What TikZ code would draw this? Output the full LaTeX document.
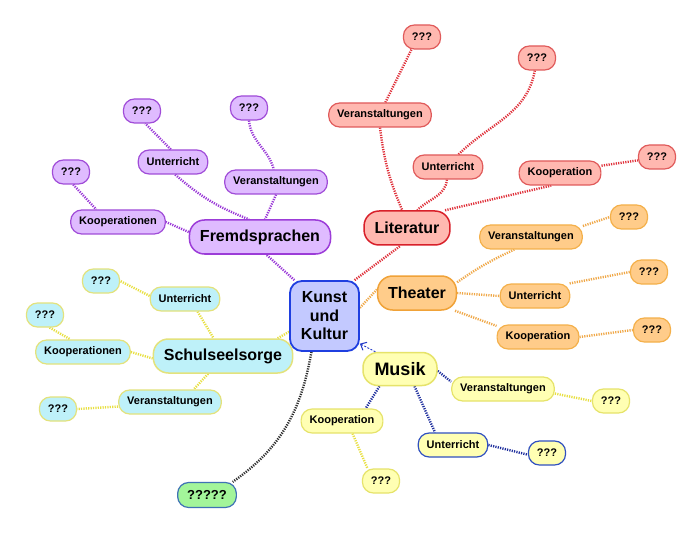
\documentclass[tikz,border=0pt]{standalone}
\usepackage{fontspec}
\setmainfont{Liberation Sans}
\usetikzlibrary{arrows.meta,backgrounds}
\definecolor{cfill}{HTML}{C3C9FF}
\definecolor{cdraw}{HTML}{1F3FE0}
\definecolor{litfill}{HTML}{FFB8B0}
\definecolor{litdraw}{HTML}{D8202A}
\definecolor{litdrawS}{HTML}{E05A5A}
\definecolor{litline}{HTML}{E0303A}
\definecolor{thfill}{HTML}{FFCC8A}
\definecolor{thdraw}{HTML}{F0A238}
\definecolor{thdrawS}{HTML}{F4B04A}
\definecolor{thline}{HTML}{F0A848}
\definecolor{frfill}{HTML}{DFBBFF}
\definecolor{frdraw}{HTML}{9C3CD8}
\definecolor{frdrawS}{HTML}{A04CD8}
\definecolor{frline}{HTML}{9A38D8}
\definecolor{ssfill}{HTML}{BEF1F9}
\definecolor{ssdraw}{HTML}{E3E27C}
\definecolor{ssline}{HTML}{E8E040}
\definecolor{mufill}{HTML}{FFFFB3}
\definecolor{mudraw}{HTML}{E6E36A}
\definecolor{mublue}{HTML}{3050C0}
\definecolor{muline}{HTML}{1C2C9C}
\definecolor{arrowblue}{HTML}{2038C8}
\definecolor{gfill}{HTML}{A3F59A}
\definecolor{gdraw}{HTML}{3F72B5}
\definecolor{gline}{HTML}{303030}
\begin{document}
\begin{tikzpicture}[x=1pt,y=-1pt,
  small/.style={draw, rounded corners=11pt, line width=1.2pt, minimum height=24pt,
    inner xsep=8.5pt, inner ysep=0pt, font=\bfseries\fontsize{11}{13}\selectfont},
  big/.style={draw, rounded corners=15pt, line width=1.5pt, minimum height=34pt,
    inner xsep=10.5pt, inner ysep=0pt, font=\bfseries\fontsize{16}{19}\selectfont},
  litS/.style={small, fill=litfill, draw=litdrawS},
  thS/.style={small, fill=thfill, draw=thdrawS},
  frS/.style={small, fill=frfill, draw=frdrawS},
  ssS/.style={small, fill=ssfill, draw=ssdraw},
  muS/.style={small, fill=mufill, draw=mudraw},
  muB/.style={small, fill=mufill, draw=mublue},
  link/.style={line width=2.4pt, dash pattern=on 1.2pt off 1.2pt},
]
\useasboundingbox (0,0) rectangle (700,534);

% centre
\node[draw=cdraw, fill=cfill, line width=1.8pt, rounded corners=12pt,
  minimum width=69pt, minimum height=70pt, inner sep=0pt, align=center,
  font=\bfseries\fontsize{16}{18.5}\selectfont] (c) at (324.5,316) {Kunst\\und\\Kultur};

% Literatur
\node[big, fill=litfill, draw=litdraw] (lit) at (407,228) {Literatur};
\node[litS] (lv) at (380,115) {Veranstaltungen};
\node[litS] (lq1) at (422,37) {???};
\node[litS] (lu) at (448,167) {Unterricht};
\node[litS] (lq2) at (537,58) {???};
\node[litS] (lk) at (560,173) {Kooperation};
\node[litS] (lq3) at (657,157) {???};

% Theater
\node[big, fill=thfill, draw=thdraw] (th) at (417,293) {Theater};
\node[thS] (tv) at (531,237) {Veranstaltungen};
\node[thS] (tq1) at (629,217) {???};
\node[thS] (tu) at (535,296) {Unterricht};
\node[thS] (tq2) at (649,272) {???};
\node[thS] (tk) at (538,337) {Kooperation};
\node[thS] (tq3) at (652,330) {???};

% Fremdsprachen
\node[big, fill=frfill, draw=frdraw] (fr) at (260,237) {Fremdsprachen};
\node[frS] (fk) at (118,222) {Kooperationen};
\node[frS] (fq3) at (71,172) {???};
\node[frS] (fu) at (173,162) {Unterricht};
\node[frS] (fq1) at (142,111) {???};
\node[frS] (fv) at (276,182) {Veranstaltungen};
\node[frS] (fq2) at (249,108) {???};

% Schulseelsorge
\node[big, fill=ssfill, draw=ssdraw] (ss) at (223,356) {Schulseelsorge};
\node[ssS] (su) at (185,299) {Unterricht};
\node[ssS] (sq1) at (101,281) {???};
\node[ssS] (sk) at (83,352) {Kooperationen};
\node[ssS] (sq2) at (45,315) {???};
\node[ssS] (sv) at (170,402) {Veranstaltungen};
\node[ssS] (sq3) at (58,409) {???};

% Musik
\node[big, fill=mufill, draw=mudraw, font=\bfseries\fontsize{18}{21}\selectfont,
  inner xsep=11.5pt, minimum height=33pt] (mu) at (400,369) {Musik};
\node[muS] (mv) at (503,389) {Veranstaltungen};
\node[muS] (mq1) at (611,401) {???};
\node[muS] (mk) at (342,421) {Kooperation};
\node[muS] (mq2) at (381,481) {???};
\node[muB] (mu2) at (453,445) {Unterricht};
\node[muB] (mq3) at (547,453) {???};

% green
\node[small, fill=gfill, draw=gdraw, minimum height=25pt, inner xsep=9.5pt,
  font=\bfseries\fontsize{13}{15}\selectfont] (g) at (207,495) {?????};

\draw[arrowblue, line width=0.9pt, dash pattern=on 2pt off 1.5pt,
  -{Straight Barb[length=5pt,width=9pt,line width=1pt]}]
  (mu.145) -- (c.-38);

\begin{scope}[on background layer]
  \fill[white] (0,0) rectangle (700,534);
  % Literatur
  \draw[link, litline] (c.50) -- (lit.250);
  \draw[link, litline] (lv.south) to[bend right=8] (lit.105);
  \draw[link, litline] (lv.67) -- (lq1.230);
  \draw[link, litline] (lu.265) to[out=265,in=45] (lit.60);
  \draw[link, litline] (lu.50) to[out=45,in=260] (lq2.260);
  \draw[link, litline] (lit.25) -- (lk.235);
  \draw[link, litline] (lk.10) -- (lq3.190);
  % Theater
  \draw[link, thline] (c.13) -- (th.175);
  \draw[link, thline] (th.15) to[bend left=5] (tv.217);
  \draw[link, thline] (tv.12) -- (tq1.180);
  \draw[link, thline] (th.east) -- (tu.west);
  \draw[link, thline] (tu.20) -- (tq2.180);
  \draw[link, thline] (th.-25) -- (tk.165);
  \draw[link, thline] (tk.east) -- (tq3.west);
  % Fremdsprachen
  \draw[link, frline] (c.130) -- (fr.290);
  \draw[link, frline] (fr.176) -- (fk.east);
  \draw[link, frline] (fu.280) to[bend right=10] (fr.122);
  \draw[link, frline] (fv.south) -- (fr.74);
  \draw[link, frline] (fu.100) -- (fq1.285);
  \draw[link, frline] (fq2.south) to[out=-85,in=105] (fv.100);
  \draw[link, frline] (fq3.280) -- (fk.150);
  % Schulseelsorge
  \draw[link, ssline] (c.204) -- (ss.18);
  \draw[link, ssline] (su.-45) -- (ss.118);
  \draw[link, ssline] (su.175) -- (sq1.east);
  \draw[link, ssline] (sk.east) -- (ss.182);
  \draw[link, ssline] (sq2.290) -- (sk.135);
  \draw[link, ssline] (ss.-130) -- (sv.28);
  \draw[link, ssline] (sv.185) -- (sq3.east);
  % Musik
  \draw[link, muline] (mu.-3) -- (mv.172);
  \draw[link, ssline] (mv.-5) -- (mq1.west);
  \draw[link, muline] (mu.-140) -- (mk.28);
  \draw[link, ssline] (mk.-50) -- (mq2.137);
  \draw[link, muline] (mu.-50) -- (mu2.145);
  \draw[link, muline] (mu2.east) -- (mq3.185);
  % green
  \draw[link, gline] (c.-110) to[out=-100,in=35] (g.27);
\end{scope}
\end{tikzpicture}
\end{document}
